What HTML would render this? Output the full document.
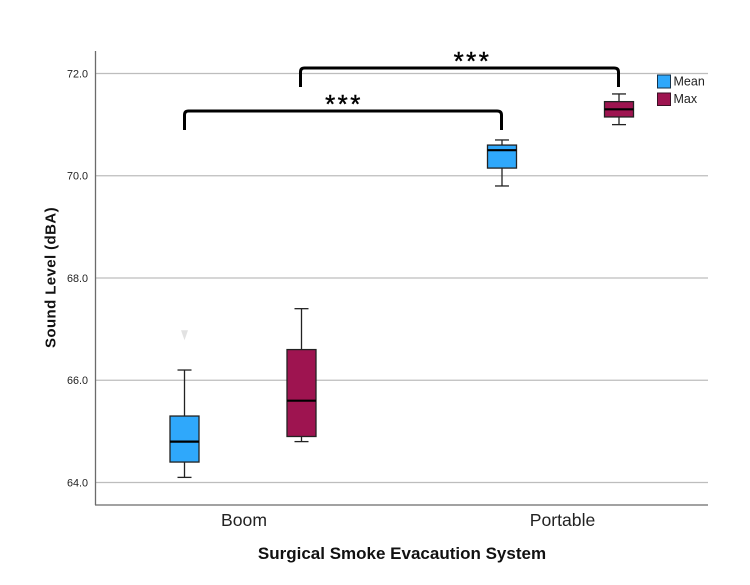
<!DOCTYPE html>
<html>
<head>
<meta charset="utf-8">
<title>Sound Level Boxplot</title>
<style>
html,body{margin:0;padding:0;background:#fff;}
svg{display:block;}
text{font-family:"Liberation Sans",Arial,sans-serif;}
</style>
</head>
<body>
<svg id="chart" width="750" height="585" viewBox="0 0 750 585" xmlns="http://www.w3.org/2000/svg">
<g id="grid"></g>
<g id="yticks"></g>
<g id="boxes"></g>
<g id="xlabels"></g>
<line x1="95.5" y1="51" x2="95.5" y2="505" stroke="#6b6b6b" stroke-width="1.3"/>
<line x1="95" y1="505" x2="708" y2="505" stroke="#6b6b6b" stroke-width="1.3"/>
<text x="55.5" y="277.5" transform="rotate(-90 55.5 277.5)" text-anchor="middle" font-size="15" letter-spacing="0.4" font-weight="bold" fill="#111">Sound Level (dBA)</text>
<text x="402" y="559" text-anchor="middle" font-size="17" font-weight="bold" fill="#111">Surgical Smoke Evacaution System</text>
<path d="M184.5 130 V115 Q184.5 111 188.5 111 H497 Q501.5 111 501.5 115 V130" fill="none" stroke="#000" stroke-width="3"/>
<path d="M300.5 87 V72 Q300.5 68 304.5 68 H614 Q618.5 68 618.5 72 V87" fill="none" stroke="#000" stroke-width="3"/>
<text x="344" y="113" text-anchor="middle" font-size="26" letter-spacing="2.5" fill="#000" stroke="#000" stroke-width="0.4">***</text>
<text x="472.5" y="70" text-anchor="middle" font-size="26" letter-spacing="2.5" fill="#000" stroke="#000" stroke-width="0.4">***</text>
<g>
<rect x="657.5" y="75" width="13" height="13" fill="#2fa8fb" stroke="#15324a" stroke-width="1"/>
<text x="673.5" y="85.5" font-size="12.5" fill="#222">Mean</text>
<rect x="657.5" y="93" width="13" height="12.5" fill="#9e1450" stroke="#3a1024" stroke-width="1"/>
<text x="673.5" y="103" font-size="12.5" fill="#222">Max</text>
</g>
</svg>
<script>
var tickValues = [64, 66, 68, 70, 72];
var tickLabels = ["64.0", "66.0", "68.0", "70.0", "72.0"];
var categories = ["Boom", "Portable"];
var seriesNames = ["Mean", "Max"];
var boomMean = [64.1, 64.4, 64.8, 65.3, 66.2];
var boomMax = [64.8, 64.9, 65.6, 66.6, 67.4];
var portableMean = [69.8, 70.15, 70.5, 70.6, 70.7];
var portableMax = [71.0, 71.15, 71.3, 71.45, 71.6];
var boomMeanOutliers = [66.9];
var portableOutliers = [];

var NS = 'http://www.w3.org/2000/svg';
function yScale(v) { return 73.5 + (72 - v) * (482.5 - 73.5) / 8; }
function xScale(catIndex, seriesIndex) { return 184.5 + catIndex * 317.5 + seriesIndex * 117; }
function catCenter(catIndex) { return 244 + catIndex * 318.5; }
function make(parent, tag, attrs) {
  var el = document.createElementNS(NS, tag);
  for (var k in attrs) { el.setAttribute(k, attrs[k]); }
  parent.appendChild(el);
  return el;
}

var grid = document.getElementById('grid');
var yticks = document.getElementById('yticks');
tickValues.forEach(function (v, i) {
  var ln = make(grid, 'line', { x1: 96, x2: 708, y1: yScale(v), y2: yScale(v), stroke: '#bdbdbd', 'stroke-width': 1.3 });
  
  
  var t = make(yticks, 'text', { x: 88, y: yScale(v) + 3.8, 'text-anchor': 'end', 'font-size': 10.8, fill: '#222' });
  t.textContent = tickLabels[i];
  
  
});

var xlabels = document.getElementById('xlabels');
categories.forEach(function (c, i) {
  var t = make(xlabels, 'text', { x: catCenter(i), y: 526, 'text-anchor': 'middle', 'font-size': 17.6, fill: '#222' });
  t.textContent = c;
  
  
});

var colors = ['#2fa8fb', '#9e1450'];
var boxes = document.getElementById('boxes');
function drawBox(stats, catIndex, seriesIndex) {
  var cx = xScale(catIndex, seriesIndex);
  var halfW = 14.5, capW = 7;
  var g = make(boxes, 'g', {});
  
  
  var stroke = '#222';
  make(g, 'line', { x1: cx, x2: cx, y1: yScale(stats[0]), y2: yScale(stats[1]), stroke: stroke, 'stroke-width': 1.3 });
  make(g, 'line', { x1: cx, x2: cx, y1: yScale(stats[3]), y2: yScale(stats[4]), stroke: stroke, 'stroke-width': 1.3 });
  make(g, 'line', { x1: cx - capW, x2: cx + capW, y1: yScale(stats[0]), y2: yScale(stats[0]), stroke: stroke, 'stroke-width': 1.3 });
  make(g, 'line', { x1: cx - capW, x2: cx + capW, y1: yScale(stats[4]), y2: yScale(stats[4]), stroke: stroke, 'stroke-width': 1.3 });
  make(g, 'rect', { x: cx - halfW, y: yScale(stats[3]), width: halfW * 2, height: yScale(stats[1]) - yScale(stats[3]), fill: colors[seriesIndex], stroke: stroke, 'stroke-width': 1.3 });
  make(g, 'line', { x1: cx - halfW, x2: cx + halfW, y1: yScale(stats[2]), y2: yScale(stats[2]), stroke: '#000', 'stroke-width': 2.2 });
}
drawBox(boomMean, 0, 0);
drawBox(boomMax, 0, 1);
drawBox(portableMean, 1, 0);
drawBox(portableMax, 1, 1);

boomMeanOutliers.forEach(function (v) {
  var cx = xScale(0, 0), cy = yScale(v);
  var m = make(boxes, 'path', { d: 'M' + (cx - 3.5) + ' ' + (cy - 4) + ' H' + (cx + 3.5) + ' L' + cx + ' ' + (cy + 6) + ' Z', fill: '#e2e2e2' });
  
  
});
</script>
</body>
</html>
